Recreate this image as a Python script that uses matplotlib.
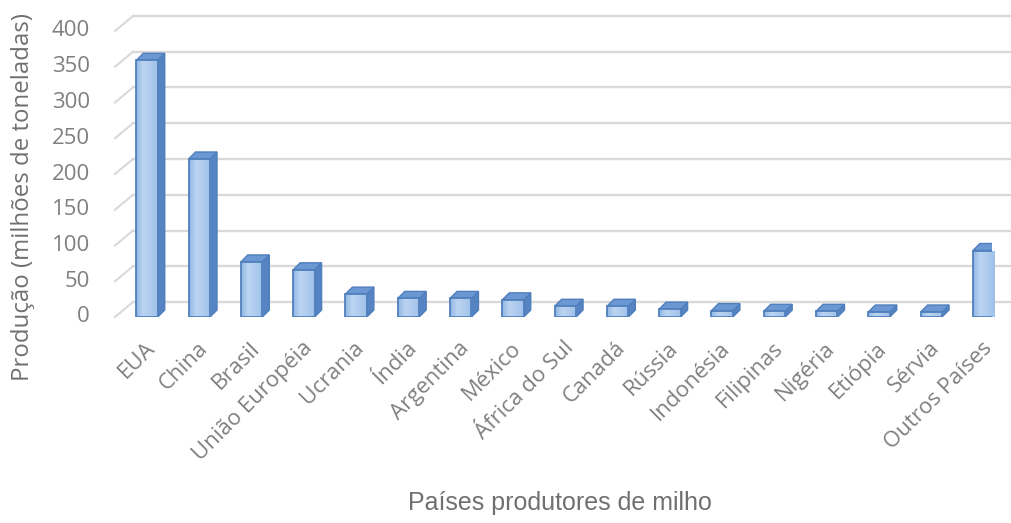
import numpy as np
import matplotlib
matplotlib.use("Agg")
import matplotlib.pyplot as plt
from matplotlib.transforms import ScaledTranslation
from matplotlib.patches import Polygon
from matplotlib.colors import LinearSegmentedColormap

plt.rcParams["font.family"] = ["Open Sans", "DejaVu Sans"]

paises = ["EUA", "China", "Brasil", "União Européia", "Ucrania", "Índia",
          "Argentina", "México", "África do Sul", "Canadá", "Rússia",
          "Indonésia", "Filipinas", "Nigéria", "Etiópia", "Sérvia", "Outros Países"]
producao = [359, 221, 77, 66, 32, 26, 26, 24, 15, 15, 11, 9, 8, 8, 7, 7, 93]
yticks = list(range(0, 401, 50))

DPI = 100
fig = plt.figure(figsize=(10.11, 5.23), dpi=DPI)
W, H = 1011, 523
# front plane of the 3-D box, in pixels
L, R, B, T = 115, 992, 317, 31
ax = fig.add_axes([L / W, (H - B) / H, (R - L) / W, (B - T) / H])
ax.set_xlim(-0.612, 16.16)
ax.set_ylim(0, 400)
ax.axis("off")

GRID = "#d9d9d9"
# back wall is shifted up/right relative to the front plane
back = ax.transData + ScaledTranslation(18 / DPI, 15 / DPI, fig.dpi_scale_trans)
x0, x1 = ax.get_xlim()
for v in yticks:
    ax.plot([x0, x1], [v, v], color=GRID, lw=1.7, transform=back, clip_on=False, zorder=0)
    # diagonal stub joining front tick to back gridline
    p0 = ax.transData.transform((x0, v))
    ax.plot([p0[0], p0[0] + 18], [p0[1], p0[1] + 15], color=GRID, lw=1.5,
            transform=None, clip_on=False, zorder=0)
    ax.text(x0, v, str(v), transform=ax.transData + ScaledTranslation(-25 / DPI, 0, fig.dpi_scale_trans),
            ha="right", va="center", fontsize=16, color="#808080")

# 3-D columns
bw = 0.41
dx, dy = 7, 7  # depth in pixels
EDGE = "#4f7fbd"
cmap = LinearSegmentedColormap.from_list("col", ["#92b7e5", "#bcd4f1", "#aecbee", "#9fc0ea"])
grad = np.linspace(0, 1, 64).reshape(1, -1)
for i, v in enumerate(producao):
    xl, xr = i - bw / 2, i + bw / 2
    bl = ax.transData.transform((xl, 0))
    br = ax.transData.transform((xr, 0))
    tl = ax.transData.transform((xl, v))
    tr = ax.transData.transform((xr, v))
    side = Polygon([br, tr, tr + [dx, dy], br + [dx, dy]], closed=True, transform=None,
                   facecolor="#5683c2", edgecolor=EDGE, lw=1.0, zorder=2)
    top = Polygon([tl, tr, tr + [dx, dy], tl + [dx, dy]], closed=True, transform=None,
                  facecolor="#6b98d3", edgecolor=EDGE, lw=1.0, zorder=2)
    ax.add_patch(side)
    ax.add_patch(top)
    im = ax.imshow(grad, cmap=cmap, extent=(xl, xr, 0, v), aspect="auto", zorder=3)
    rect = ax.bar(i, v, width=bw, facecolor="none", edgecolor=EDGE, lw=1.3, zorder=4)[0]
    im.set_clip_path(rect)

ax.set_xlim(x0, x1)
ax.set_ylim(0, 400)

# category labels
lab = ax.transData + ScaledTranslation(5 / DPI, -28 / DPI, fig.dpi_scale_trans)
for i, name in enumerate(paises):
    ax.text(i, 0, name, transform=lab, rotation=45, rotation_mode="anchor",
            ha="right", va="center", fontsize=16, color="#808080")

fig.text(23 / W, 1 - 197 / H, "Produção (milhões de toneladas)", rotation=90,
         ha="center", va="center", fontsize=17.3, color="#707070")
fig.text(560 / W, 1 - 503 / H, "Países produtores de milho",
         ha="center", va="center", fontsize=18, color="#707070",
         family=["Liberation Sans", "DejaVu Sans"])

fig.savefig("out.png", dpi=DPI, facecolor="white")
